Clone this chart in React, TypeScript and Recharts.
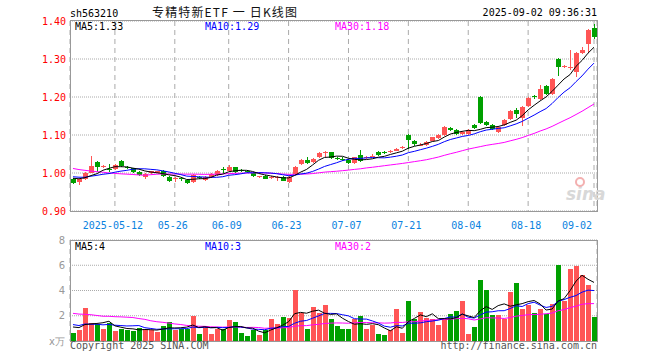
import React from 'react';
import { ComposedChart, Bar, Line, XAxis, YAxis, CartesianGrid } from 'recharts';

// daily K-line, 2025-04-28 .. 2025-09-02 (88 sessions)
const opens = [
  0.984, 0.976, 0.984, 1.001, 1.03, 1.016, 1.01, 1.01, 1.032, 1.016,
  1.012, 1.003, 0.989, 1.001, 1.001, 1.005, 0.99, 0.985, 0.986, 0.982,
  0.977, 0.989, 0.982, 0.989, 0.995, 1.01, 1.005, 1.015, 1.008, 1.006,
  1.001, 0.989, 0.992, 0.986, 0.988, 0.989, 0.977, 0.997, 1.023, 1.034,
  1.029, 1.041, 1.053, 1.054, 1.04, 1.038, 1.034, 1.026, 1.047, 1.04,
  1.044, 1.056, 1.054, 1.055, 1.059, 1.066, 1.1, 1.085, 1.073, 1.074,
  1.085, 1.091, 1.1, 1.118, 1.113, 1.103, 1.103, 1.126, 1.201, 1.135,
  1.126, 1.109, 1.126, 1.141, 1.166, 1.145, 1.176, 1.202, 1.195, 1.229,
  1.208, 1.3, 1.279, 1.277, 1.267, 1.315, 1.339, 1.381,
];
const closes = [
  0.974, 0.983, 0.999, 1.018, 1.017, 1.019, 1.008, 1.021, 1.018, 1.014,
  1.003, 0.995, 0.997, 1.004, 1.004, 0.992, 0.979, 0.987, 0.983, 0.973,
  0.995, 0.986, 0.99, 0.997, 1.005, 1.007, 1.017, 1.003, 1.004, 1.004,
  0.992, 0.991, 0.985, 0.99, 0.99, 0.98, 0.99, 1.017, 1.034, 1.026,
  1.038, 1.052, 1.055, 1.039, 1.038, 1.036, 1.026, 1.041, 1.032, 1.042,
  1.046, 1.047, 1.052, 1.057, 1.063, 1.068, 1.087, 1.076, 1.075, 1.082,
  1.094, 1.1, 1.122, 1.114, 1.103, 1.109, 1.113, 1.118, 1.131, 1.126,
  1.115, 1.122, 1.139, 1.164, 1.155, 1.174, 1.198, 1.2, 1.221, 1.208,
  1.247, 1.28, 1.281, 1.279, 1.317, 1.324, 1.376, 1.359,
];
const highs = [
  0.986, 0.985, 1.002, 1.046, 1.032, 1.021, 1.023, 1.024, 1.034, 1.018,
  1.014, 1.005, 0.999, 1.006, 1.006, 1.007, 0.992, 0.989, 0.988, 0.984,
  0.997, 0.992, 0.992, 0.999, 1.007, 1.017, 1.02, 1.017, 1.01, 1.008,
  1.003, 0.993, 0.994, 0.992, 0.992, 0.991, 0.992, 1.019, 1.036, 1.042,
  1.04, 1.054, 1.058, 1.056, 1.042, 1.041, 1.036, 1.043, 1.061, 1.044,
  1.049, 1.058, 1.057, 1.06, 1.065, 1.072, 1.102, 1.087, 1.078, 1.084,
  1.096, 1.102, 1.124, 1.122, 1.116, 1.111, 1.115, 1.128, 1.203, 1.138,
  1.128, 1.124, 1.141, 1.166, 1.172, 1.176, 1.2, 1.205, 1.232, 1.231,
  1.249, 1.302, 1.285, 1.324, 1.319, 1.332, 1.378, 1.392,
];
const lows = [
  0.97, 0.969, 0.981, 0.999, 1.003, 1.014, 1.003, 1.008, 1.015, 1.011,
  1.001, 0.993, 0.984, 0.998, 0.999, 0.99, 0.977, 0.976, 0.978, 0.971,
  0.975, 0.983, 0.98, 0.987, 0.993, 1.001, 1.003, 1.001, 1.002, 1.001,
  0.99, 0.987, 0.983, 0.984, 0.979, 0.978, 0.975, 0.995, 1.021, 1.024,
  1.027, 1.039, 1.041, 1.037, 1.035, 1.032, 1.024, 1.024, 1.03, 1.037,
  1.041, 1.045, 1.049, 1.052, 1.057, 1.063, 1.062, 1.072, 1.07, 1.072,
  1.083, 1.089, 1.098, 1.11, 1.101, 1.101, 1.101, 1.116, 1.129, 1.123,
  1.112, 1.106, 1.124, 1.139, 1.146, 1.124, 1.174, 1.196, 1.193, 1.206,
  1.206, 1.255, 1.276, 1.272, 1.253, 1.313, 1.316, 1.352,
];
// volume, 万手
const volumes = [
  0.64, 0.85, 2.62, 1.46, 1.38, 0.93, 1.43, 0.79, 0.93, 0.87,
  0.79, 1.03, 0.93, 0.85, 0.72, 1.19, 1.51, 0.9, 0.93, 0.98,
  1.99, 0.56, 1.19, 0.56, 0.98, 0.98, 1.64, 1.51, 0.64, 0.4,
  0.9, 0.45, 0.85, 1.72, 1.32, 1.91, 1.83, 4.03, 2.25, 0.98,
  2.7, 2.25, 2.83, 1.77, 1.19, 0.98, 0.93, 1.77, 1.99, 0.93,
  1.24, 0.53, 0.45, 0.9, 2.52, 0.64, 3.15, 1.72, 2.3, 1.83,
  1.77, 1.24, 1.72, 2.17, 2.36, 3.15, 0.53, 1.09, 4.82, 4.03,
  2.04, 2.04, 1.77, 3.89, 4.58, 2.52, 2.83, 2.22, 2.52, 2.17,
  2.91, 6.01, 3.15, 5.69, 5.96, 5.22, 4.42, 1.91,
];
// sessions before the window, only used to seed the moving averages
const priorCloses = [
  1.07, 1.06, 1.075, 1.065, 1.06, 1.07, 1.057, 1.05, 1.04, 1.03,
  1.03, 1.02, 0.96, 0.965, 0.975, 0.98, 0.985, 0.99, 0.985, 0.99,
  0.995, 1.0, 0.99, 0.995, 0.99, 0.99, 0.985, 0.99, 0.992,
];
const priorVolumes = [
  2.6, 3.1, 2.5, 3.2, 2.7, 1.5, 1.8, 1.4, 1.6, 1.6,
  3.5, 2.8, 4.2, 3.0, 2.6, 3.3, 2.9, 2.4, 3.1, 2.9,
  1.6, 1.4, 1.7, 1.3, 1.45, 1.1, 1.4, 1.2, 1.21,
];

const tickIndex = [7, 17, 26, 36, 46, 56, 66, 76, 87];
const tickLabels = ['2025-05-12', '05-26', '06-09', '06-23', '07-07', '07-21', '08-04', '08-18', '09-02'];
const priceTicks = [0.9, 1.0, 1.1, 1.2, 1.3, 1.4];
const volTicks = [0, 2, 4, 6, 8];

const UP = '#ff5555';
const DOWN = '#00a000';
const MONO = '"DejaVu Sans Mono", monospace';

const movingAvg = (series: number[], prior: number[], n: number) => {
  const all = [...prior, ...series];
  return series.map((_, i) => {
    const end = prior.length + i + 1;
    const win = all.slice(end - n, end);
    return win.reduce((a, b) => a + b, 0) / n;
  });
};

const ma5 = movingAvg(closes, priorCloses, 5);
const ma10 = movingAvg(closes, priorCloses, 10);
const ma30 = movingAvg(closes, priorCloses, 30);
const vma5 = movingAvg(volumes, priorVolumes, 5);
const vma10 = movingAvg(volumes, priorVolumes, 10);
const vma30 = movingAvg(volumes, priorVolumes, 30);

const data = opens.map((open, i) => ({
  i,
  open,
  close: closes[i],
  high: highs[i],
  low: lows[i],
  range: [lows[i], highs[i]],
  vol: volumes[i],
  up: closes[i] >= open,
  ma5: ma5[i],
  ma10: ma10[i],
  ma30: ma30[i],
  vma5: vma5[i],
  vma10: vma10[i],
  vma30: vma30[i],
}));

const Candle = (props: any) => {
  const { x, y, width, height, payload } = props;
  const top = Math.min(y, y + height);
  const h = Math.abs(height);
  const { open, close, high, low } = payload;
  const span = high - low || 1;
  const py = (v: number) => top + ((high - v) / span) * h;
  const color = payload.up ? UP : DOWN;
  const cx = Math.round(x + width / 2) + 0.5;
  const bTop = Math.round(py(Math.max(open, close)));
  const bBot = Math.round(py(Math.min(open, close)));
  return (
    <g shapeRendering="crispEdges">
      <line x1={cx} x2={cx} y1={top} y2={top + h} stroke={color} />
      <rect x={cx - 2.5} y={bTop} width={5} height={Math.max(1, bBot - bTop)} fill={color} />
    </g>
  );
};

const VolBar = (props: any) => {
  const { x, y, width, height, payload } = props;
  const cx = Math.round(x + width / 2);
  return (
    <rect
      x={cx - 2}
      y={Math.round(y)}
      width={5}
      height={Math.max(0, Math.round(y + height) - Math.round(y))}
      fill={payload.up ? UP : DOWN}
      shapeRendering="crispEdges"
    />
  );
};

const DateTick = ({ x, y, payload }: any) => {
  const k = tickIndex.indexOf(payload.value);
  const last = k === tickIndex.length - 1;
  return (
    <text x={last ? x - 2 : x - 2} y={y + 10} textAnchor={last ? 'end' : 'middle'} fill="#0a82e0" fontSize={10} fontFamily={MONO}>
      {tickLabels[k]}
    </text>
  );
};

const PriceTick = ({ x, y, payload }: any) => (
  <text x={x + 4} y={y} dy="0.35em" textAnchor="end" fill="#ff0000" fontSize={10} fontFamily={MONO}>
    {Number(payload.value).toFixed(2)}
  </text>
);

const VolTick = ({ x, y, payload }: any) => (
  <text x={x + 3} y={y} dy="0.35em" textAnchor="end" fill="#999" fontSize={10} fontFamily='"DejaVu Sans", sans-serif'>
    {payload.value === 0 ? 'x万' : payload.value}
  </text>
);

const boxStyle = (top: number, height: number): React.CSSProperties => ({
  position: 'absolute',
  left: 70,
  top,
  width: 528,
  height,
  boxSizing: 'border-box',
  border: '1px solid #999',
  pointerEvents: 'none',
});

export default function App() {
  return (
    <div style={{ position: 'absolute', left: 0, top: 0, width: 660, height: 360, background: '#fff', overflow: 'hidden' }}>
      <div style={{ position: 'absolute', left: 0, top: 0 }}>
        <ComposedChart width={660} height={230} data={data} margin={{ top: 21, right: 63, bottom: 0, left: 0 }} barCategoryGap={0}>
          <CartesianGrid vertical={false} stroke="#aaa" strokeDasharray="1 1" />
          <CartesianGrid horizontal={false} stroke="#aaa" strokeDasharray="5 4" />
          <XAxis dataKey="i" type="category" ticks={tickIndex} interval={0} height={19} axisLine={false} tickLine={false} tick={<DateTick />} />
          <YAxis domain={[0.9, 1.4]} ticks={priceTicks} width={70} axisLine={false} tickLine={false} tick={<PriceTick />} />
          <Bar dataKey="range" shape={<Candle />} isAnimationActive={false} />
          <Line type="linear" dataKey="ma30" stroke="#ff00ff" strokeWidth={1} dot={false} isAnimationActive={false} />
          <Line type="linear" dataKey="ma10" stroke="#0000ff" strokeWidth={1} dot={false} isAnimationActive={false} />
          <Line type="linear" dataKey="ma5" stroke="#000000" strokeWidth={1} dot={false} isAnimationActive={false} />
        </ComposedChart>
      </div>
      <div style={{ position: 'absolute', left: 0, top: 220 }}>
        <ComposedChart width={660} height={140} data={data} margin={{ top: 20, right: 63, bottom: 19, left: 0 }} barCategoryGap={0}>
          <CartesianGrid vertical={false} stroke="#aaa" strokeDasharray="1 1" />
          <CartesianGrid horizontal={false} stroke="#aaa" strokeDasharray="5 4" />
          <XAxis dataKey="i" type="category" ticks={tickIndex} interval={0} height={0} axisLine={false} tickLine={false} tick={false} />
          <YAxis domain={[0, 8]} ticks={volTicks} width={70} axisLine={false} tickLine={false} tick={<VolTick />} />
          <Bar dataKey="vol" shape={<VolBar />} isAnimationActive={false} />
          <Line type="linear" dataKey="vma30" stroke="#ff00ff" strokeWidth={1} dot={false} isAnimationActive={false} />
          <Line type="linear" dataKey="vma10" stroke="#0000ff" strokeWidth={1} dot={false} isAnimationActive={false} />
          <Line type="linear" dataKey="vma5" stroke="#000000" strokeWidth={1} dot={false} isAnimationActive={false} />
        </ComposedChart>
      </div>
      <div style={boxStyle(20, 192)} />
      <div style={boxStyle(240, 102)} />
      <svg width={660} height={360} style={{ position: 'absolute', left: 0, top: 0, pointerEvents: 'none' }}>
        <text x={70} y={16.5} fontSize={10} fontFamily={MONO} fill="#000">sh563210</text>
        <text x={152} y={16.5} fontSize={12} fontFamily='"Noto Sans CJK SC", sans-serif' fill="#111" textLength={145} lengthAdjust="spacing">
          专精特新ETF 一 日K线图
        </text>
        <text x={597} y={16} textAnchor="end" fontSize={10} fontFamily={MONO} fill="#000">2025-09-02 09:36:31</text>

        <text x={75} y={29.5} fontSize={10} fontFamily={MONO} fill="#000">MA5:1.33</text>
        <text x={205} y={29.5} fontSize={10} fontFamily={MONO} fill="#0000ff">MA10:1.29</text>
        <text x={335} y={29.5} fontSize={10} fontFamily={MONO} fill="#ff00ff">MA30:1.18</text>

        <text x={75} y={250} fontSize={10} fontFamily={MONO} fill="#000">MA5:4</text>
        <text x={205} y={250} fontSize={10} fontFamily={MONO} fill="#0000ff">MA10:3</text>
        <text x={335} y={250} fontSize={10} fontFamily={MONO} fill="#ff00ff">MA30:2</text>

        <text x={566} y={200} fontSize={17} fontStyle="italic" fontWeight="bold" fontFamily='"DejaVu Sans", sans-serif' fill="#d8d8d8">sina</text>
        <circle cx={580} cy={182} r={4} fill="none" stroke="#f3b0b0" strokeWidth={2} />

        <text x={70} y={349} fontSize={10} fontFamily={MONO} fill="#555">Copyright 2025 SINA.COM</text>
        <text x={597} y={349} textAnchor="end" fontSize={10} fontFamily={MONO} fill="#555">http://finance.sina.com.cn</text>
      </svg>
    </div>
  );
}
